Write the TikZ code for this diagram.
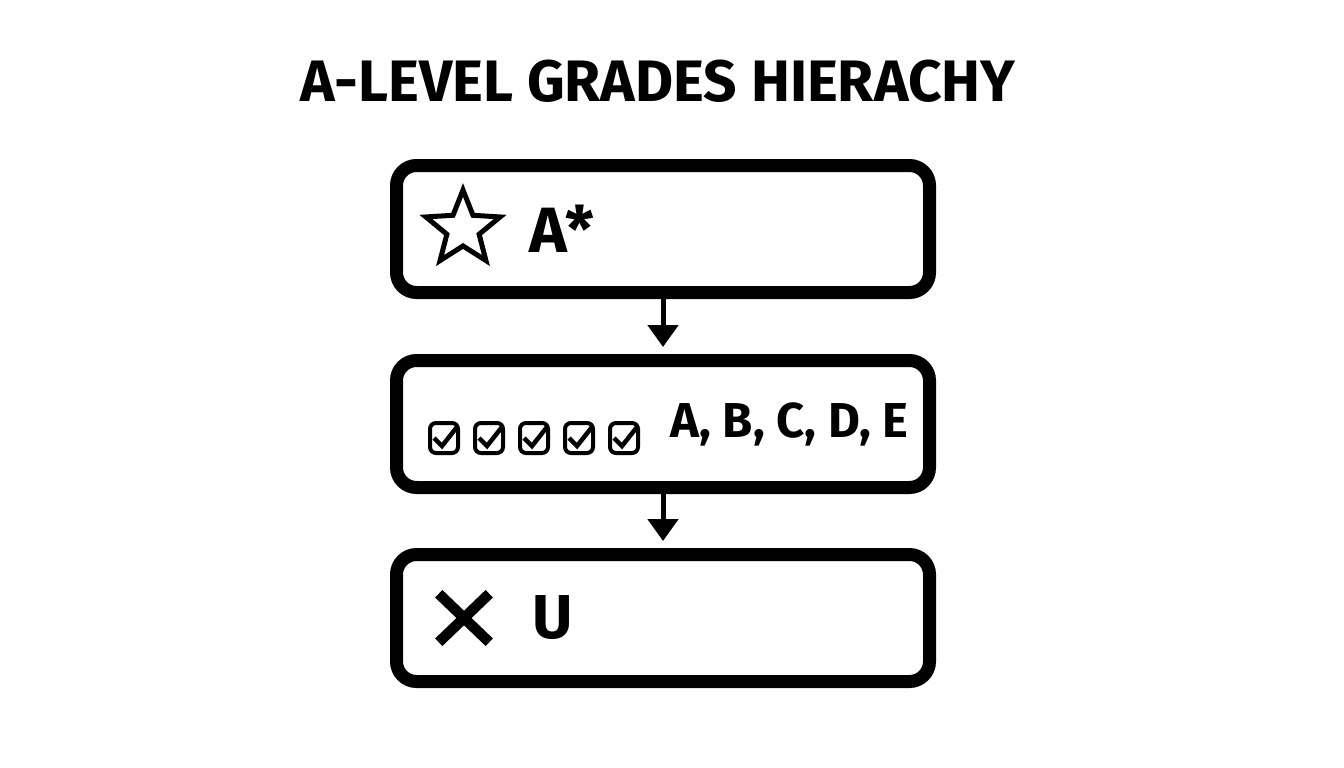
\documentclass[tikz,border=0pt]{standalone}
\usepackage{fontspec}
\setmainfont{Fira Sans}
\usetikzlibrary{arrows.meta,positioning,shapes.geometric,shapes.misc}

\begin{document}
\begin{tikzpicture}[x=1pt,y=-1pt,semithick]
	  \tikzstyle{grade}=[draw=black,fill=white,line width=13pt,rounded corners=20pt,minimum width=533pt,minimum height=127pt,inner sep=0pt]
	  \tikzstyle{tick box}=[draw=black,line width=4pt,rounded corners=6pt,minimum width=28pt,minimum height=30pt,inner sep=0pt]
	  \tikzstyle{flow}=[-{Triangle[width=30pt,length=22pt]},line width=5pt,shorten >=7pt]
	  \tikzstyle{big}=[inner sep=0pt,text=black,font=\bfseries\fontsize{49}{54}\selectfont]

	  \fill[white] (0,0) rectangle (1344,768);
	  \useasboundingbox (0,0) rectangle (1344,768);

	  \node[big,font=\bfseries\fontsize{58.5}{62}\selectfont] (title) at (658,81) {A-LEVEL GRADES HIERACHY};

	  \node[grade] (Astar) at (663,229) {};
	  \node[grade] (Pass) [below=55pt of Astar] {};
	  \node[grade] (Fail) [below=54pt of Pass] {};

	  \draw[flow] (Astar) -- (Pass);
	  \draw[flow] (Pass) -- (Fail);

	  % top row
	  \node[star,star points=5,star point ratio=2.3,draw,line width=5pt,minimum size=78pt,inner sep=0pt] (star) [right=73pt of Astar.west,anchor=center] {};
	  \node[big,font=\bfseries\fontsize{64}{68}\selectfont] (AstarText) [right=139pt of Astar.west] {A*};

	  % middle row
	  \foreach \i in {0,...,4}{
	    \node[tick box] (box\i) at (444+45*\i,438) {};
	    \draw[line width=4.5pt] ([shift={(-10,0)}]box\i.center) -- ([shift={(-2,8)}]box\i.center) -- ([shift={(13,-11)}]box\i.center);
	  }
	  \node[big] (PassText) [right=280pt of Pass.west] {A, B, C, D, E};

	  % bottom row
	  \node[cross out,draw,line width=10.5pt,minimum width=40pt,minimum height=38pt,inner sep=0pt] (xmark) [right=74pt of Fail.west,anchor=center] {};
	  \node[big,font=\bfseries\fontsize{62}{66}\selectfont] (FailText) [right=142pt of Fail.west] {U};
\end{tikzpicture}
\end{document}
